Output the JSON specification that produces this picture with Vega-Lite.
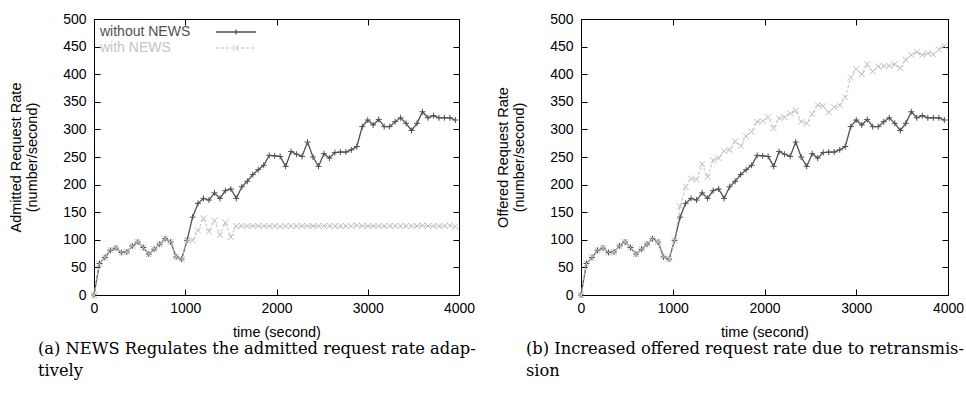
{
  "$schema": "https://vega.github.io/schema/vega-lite/v6.json",
  "background": "white",
  "padding": {"left": 8, "top": 11, "right": 5, "bottom": 0},
  "datasets": {
    "adm": [
      {"t":0,"s":"without NEWS","v":0},{"t":60,"s":"without NEWS","v":57},{"t":120,"s":"without NEWS","v":68},{"t":180,"s":"without NEWS","v":81},{"t":240,"s":"without NEWS","v":85},{"t":300,"s":"without NEWS","v":77},{"t":360,"s":"without NEWS","v":78},{"t":420,"s":"without NEWS","v":89},{"t":480,"s":"without NEWS","v":96},{"t":540,"s":"without NEWS","v":86},{"t":600,"s":"without NEWS","v":74},{"t":660,"s":"without NEWS","v":83},{"t":720,"s":"without NEWS","v":92},{"t":780,"s":"without NEWS","v":102},{"t":840,"s":"without NEWS","v":96},{"t":900,"s":"without NEWS","v":69},{"t":960,"s":"without NEWS","v":65},{"t":1020,"s":"without NEWS","v":99},
      {"t":1080,"s":"without NEWS","v":141},{"t":1140,"s":"without NEWS","v":166},{"t":1200,"s":"without NEWS","v":175},{"t":1260,"s":"without NEWS","v":172},{"t":1320,"s":"without NEWS","v":185},{"t":1380,"s":"without NEWS","v":175},{"t":1440,"s":"without NEWS","v":189},{"t":1500,"s":"without NEWS","v":192},{"t":1560,"s":"without NEWS","v":175},{"t":1620,"s":"without NEWS","v":196},{"t":1680,"s":"without NEWS","v":206},{"t":1740,"s":"without NEWS","v":218},{"t":1800,"s":"without NEWS","v":227},{"t":1860,"s":"without NEWS","v":235},{"t":1920,"s":"without NEWS","v":253},{"t":1980,"s":"without NEWS","v":252},{"t":2040,"s":"without NEWS","v":251},{"t":2100,"s":"without NEWS","v":233},{"t":2160,"s":"without NEWS","v":260},{"t":2220,"s":"without NEWS","v":255},{"t":2280,"s":"without NEWS","v":251},{"t":2340,"s":"without NEWS","v":277},{"t":2400,"s":"without NEWS","v":250},{"t":2460,"s":"without NEWS","v":233},{"t":2520,"s":"without NEWS","v":256},{"t":2580,"s":"without NEWS","v":248},{"t":2640,"s":"without NEWS","v":258},{"t":2700,"s":"without NEWS","v":259},{"t":2760,"s":"without NEWS","v":259},{"t":2820,"s":"without NEWS","v":263},{"t":2880,"s":"without NEWS","v":269},{"t":2940,"s":"without NEWS","v":305},{"t":3000,"s":"without NEWS","v":317},{"t":3060,"s":"without NEWS","v":308},{"t":3120,"s":"without NEWS","v":318},{"t":3180,"s":"without NEWS","v":305},{"t":3240,"s":"without NEWS","v":305},{"t":3300,"s":"without NEWS","v":314},{"t":3360,"s":"without NEWS","v":321},{"t":3420,"s":"without NEWS","v":311},{"t":3480,"s":"without NEWS","v":298},{"t":3540,"s":"without NEWS","v":311},{"t":3600,"s":"without NEWS","v":332},{"t":3660,"s":"without NEWS","v":321},{"t":3720,"s":"without NEWS","v":325},{"t":3780,"s":"without NEWS","v":321},{"t":3840,"s":"without NEWS","v":321},{"t":3900,"s":"without NEWS","v":321},{"t":3960,"s":"without NEWS","v":317},
      {"t":0,"s":"with NEWS","v":0},{"t":60,"s":"with NEWS","v":57},{"t":120,"s":"with NEWS","v":68},{"t":180,"s":"with NEWS","v":81},{"t":240,"s":"with NEWS","v":85},{"t":300,"s":"with NEWS","v":77},{"t":360,"s":"with NEWS","v":78},{"t":420,"s":"with NEWS","v":89},{"t":480,"s":"with NEWS","v":96},{"t":540,"s":"with NEWS","v":86},{"t":600,"s":"with NEWS","v":74},{"t":660,"s":"with NEWS","v":83},{"t":720,"s":"with NEWS","v":92},{"t":780,"s":"with NEWS","v":102},{"t":840,"s":"with NEWS","v":96},{"t":900,"s":"with NEWS","v":69},{"t":960,"s":"with NEWS","v":65},{"t":1020,"s":"with NEWS","v":99},
      {"t":1080,"s":"with NEWS","v":99},{"t":1140,"s":"with NEWS","v":117},{"t":1200,"s":"with NEWS","v":139},{"t":1260,"s":"with NEWS","v":115},{"t":1320,"s":"with NEWS","v":135},{"t":1380,"s":"with NEWS","v":109},{"t":1440,"s":"with NEWS","v":131},{"t":1500,"s":"with NEWS","v":105},{"t":1560,"s":"with NEWS","v":125},{"t":1620,"s":"with NEWS","v":125},{"t":1680,"s":"with NEWS","v":125},{"t":1740,"s":"with NEWS","v":125},{"t":1800,"s":"with NEWS","v":125},{"t":1860,"s":"with NEWS","v":125},{"t":1920,"s":"with NEWS","v":125},{"t":1980,"s":"with NEWS","v":125},{"t":2040,"s":"with NEWS","v":124},{"t":2100,"s":"with NEWS","v":125},{"t":2160,"s":"with NEWS","v":125},{"t":2220,"s":"with NEWS","v":125},{"t":2280,"s":"with NEWS","v":125},{"t":2340,"s":"with NEWS","v":125},{"t":2400,"s":"with NEWS","v":125},{"t":2460,"s":"with NEWS","v":125},{"t":2520,"s":"with NEWS","v":125},{"t":2580,"s":"with NEWS","v":125},{"t":2640,"s":"with NEWS","v":125},{"t":2700,"s":"with NEWS","v":125},{"t":2760,"s":"with NEWS","v":125},{"t":2820,"s":"with NEWS","v":125},{"t":2880,"s":"with NEWS","v":126},{"t":2940,"s":"with NEWS","v":125},{"t":3000,"s":"with NEWS","v":125},{"t":3060,"s":"with NEWS","v":125},{"t":3120,"s":"with NEWS","v":125},{"t":3180,"s":"with NEWS","v":125},{"t":3240,"s":"with NEWS","v":125},{"t":3300,"s":"with NEWS","v":125},{"t":3360,"s":"with NEWS","v":125},{"t":3420,"s":"with NEWS","v":125},{"t":3480,"s":"with NEWS","v":125},{"t":3540,"s":"with NEWS","v":125},{"t":3600,"s":"with NEWS","v":126},{"t":3660,"s":"with NEWS","v":125},{"t":3720,"s":"with NEWS","v":125},{"t":3780,"s":"with NEWS","v":125},{"t":3840,"s":"with NEWS","v":125},{"t":3900,"s":"with NEWS","v":126},{"t":3960,"s":"with NEWS","v":124}
    ],
    "off": [
      {"t":0,"s":"without NEWS","v":0},{"t":60,"s":"without NEWS","v":57},{"t":120,"s":"without NEWS","v":68},{"t":180,"s":"without NEWS","v":81},{"t":240,"s":"without NEWS","v":85},{"t":300,"s":"without NEWS","v":77},{"t":360,"s":"without NEWS","v":78},{"t":420,"s":"without NEWS","v":89},{"t":480,"s":"without NEWS","v":96},{"t":540,"s":"without NEWS","v":86},{"t":600,"s":"without NEWS","v":74},{"t":660,"s":"without NEWS","v":83},{"t":720,"s":"without NEWS","v":92},{"t":780,"s":"without NEWS","v":102},{"t":840,"s":"without NEWS","v":96},{"t":900,"s":"without NEWS","v":69},{"t":960,"s":"without NEWS","v":65},{"t":1020,"s":"without NEWS","v":99},
      {"t":1080,"s":"without NEWS","v":141},{"t":1140,"s":"without NEWS","v":166},{"t":1200,"s":"without NEWS","v":175},{"t":1260,"s":"without NEWS","v":172},{"t":1320,"s":"without NEWS","v":185},{"t":1380,"s":"without NEWS","v":175},{"t":1440,"s":"without NEWS","v":189},{"t":1500,"s":"without NEWS","v":192},{"t":1560,"s":"without NEWS","v":175},{"t":1620,"s":"without NEWS","v":196},{"t":1680,"s":"without NEWS","v":206},{"t":1740,"s":"without NEWS","v":218},{"t":1800,"s":"without NEWS","v":227},{"t":1860,"s":"without NEWS","v":235},{"t":1920,"s":"without NEWS","v":253},{"t":1980,"s":"without NEWS","v":252},{"t":2040,"s":"without NEWS","v":251},{"t":2100,"s":"without NEWS","v":233},{"t":2160,"s":"without NEWS","v":260},{"t":2220,"s":"without NEWS","v":255},{"t":2280,"s":"without NEWS","v":251},{"t":2340,"s":"without NEWS","v":277},{"t":2400,"s":"without NEWS","v":250},{"t":2460,"s":"without NEWS","v":233},{"t":2520,"s":"without NEWS","v":256},{"t":2580,"s":"without NEWS","v":248},{"t":2640,"s":"without NEWS","v":258},{"t":2700,"s":"without NEWS","v":259},{"t":2760,"s":"without NEWS","v":259},{"t":2820,"s":"without NEWS","v":263},{"t":2880,"s":"without NEWS","v":269},{"t":2940,"s":"without NEWS","v":305},{"t":3000,"s":"without NEWS","v":317},{"t":3060,"s":"without NEWS","v":308},{"t":3120,"s":"without NEWS","v":318},{"t":3180,"s":"without NEWS","v":305},{"t":3240,"s":"without NEWS","v":305},{"t":3300,"s":"without NEWS","v":314},{"t":3360,"s":"without NEWS","v":321},{"t":3420,"s":"without NEWS","v":311},{"t":3480,"s":"without NEWS","v":298},{"t":3540,"s":"without NEWS","v":311},{"t":3600,"s":"without NEWS","v":332},{"t":3660,"s":"without NEWS","v":321},{"t":3720,"s":"without NEWS","v":325},{"t":3780,"s":"without NEWS","v":321},{"t":3840,"s":"without NEWS","v":321},{"t":3900,"s":"without NEWS","v":321},{"t":3960,"s":"without NEWS","v":317},
      {"t":0,"s":"with NEWS","v":0},{"t":60,"s":"with NEWS","v":57},{"t":120,"s":"with NEWS","v":68},{"t":180,"s":"with NEWS","v":81},{"t":240,"s":"with NEWS","v":85},{"t":300,"s":"with NEWS","v":77},{"t":360,"s":"with NEWS","v":78},{"t":420,"s":"with NEWS","v":89},{"t":480,"s":"with NEWS","v":96},{"t":540,"s":"with NEWS","v":86},{"t":600,"s":"with NEWS","v":74},{"t":660,"s":"with NEWS","v":83},{"t":720,"s":"with NEWS","v":92},{"t":780,"s":"with NEWS","v":102},{"t":840,"s":"with NEWS","v":96},{"t":900,"s":"with NEWS","v":69},{"t":960,"s":"with NEWS","v":65},{"t":1020,"s":"with NEWS","v":99},
      {"t":1080,"s":"with NEWS","v":161},{"t":1140,"s":"with NEWS","v":196},{"t":1200,"s":"with NEWS","v":211},{"t":1260,"s":"with NEWS","v":209},{"t":1320,"s":"with NEWS","v":237},{"t":1380,"s":"with NEWS","v":214},{"t":1440,"s":"with NEWS","v":244},{"t":1500,"s":"with NEWS","v":248},{"t":1560,"s":"with NEWS","v":261},{"t":1620,"s":"with NEWS","v":263},{"t":1680,"s":"with NEWS","v":278},{"t":1740,"s":"with NEWS","v":270},{"t":1800,"s":"with NEWS","v":288},{"t":1860,"s":"with NEWS","v":296},{"t":1920,"s":"with NEWS","v":314},{"t":1980,"s":"with NEWS","v":315},{"t":2040,"s":"with NEWS","v":322},{"t":2100,"s":"with NEWS","v":302},{"t":2160,"s":"with NEWS","v":320},{"t":2220,"s":"with NEWS","v":322},{"t":2280,"s":"with NEWS","v":329},{"t":2340,"s":"with NEWS","v":334},{"t":2400,"s":"with NEWS","v":314},{"t":2460,"s":"with NEWS","v":311},{"t":2520,"s":"with NEWS","v":328},{"t":2580,"s":"with NEWS","v":344},{"t":2640,"s":"with NEWS","v":342},{"t":2700,"s":"with NEWS","v":331},{"t":2760,"s":"with NEWS","v":340},{"t":2820,"s":"with NEWS","v":344},{"t":2880,"s":"with NEWS","v":358},{"t":2940,"s":"with NEWS","v":394},{"t":3000,"s":"with NEWS","v":409},{"t":3060,"s":"with NEWS","v":400},{"t":3120,"s":"with NEWS","v":418},{"t":3180,"s":"with NEWS","v":405},{"t":3240,"s":"with NEWS","v":414},{"t":3300,"s":"with NEWS","v":415},{"t":3360,"s":"with NEWS","v":415},{"t":3420,"s":"with NEWS","v":418},{"t":3480,"s":"with NEWS","v":411},{"t":3540,"s":"with NEWS","v":426},{"t":3600,"s":"with NEWS","v":435},{"t":3660,"s":"with NEWS","v":440},{"t":3720,"s":"with NEWS","v":435},{"t":3780,"s":"with NEWS","v":438},{"t":3840,"s":"with NEWS","v":436},{"t":3900,"s":"with NEWS","v":445},{"t":3960,"s":"with NEWS","v":451}
    ]
  },
  "bounds": "flush",
  "spacing": 122,
  "hconcat": [
    {
      "width": 365,
      "height": 276,
      "title": {"text": "(a) NEWS Regulates the admitted request rate adap-", "subtitle": "tively", "orient": "bottom", "anchor": "start", "frame": "group", "dx": -56, "offset": 2, "font": "DejaVu Serif", "fontSize": 16.3, "fontWeight": "normal", "color": "#000", "subtitleFont": "DejaVu Serif", "subtitleFontSize": 16.3, "subtitleColor": "#000", "subtitlePadding": 6},
      "data": {"name": "adm"},
      "layer": [
        {
          "transform": [{"filter": "datum.s === 'without NEWS'"}],
          "mark": {"type": "line", "strokeWidth": 1.3},
          "encoding": {
            "x": {"field": "t", "type": "quantitative", "scale": {"domain": [0, 4000], "nice": false, "zero": false}, "axis": {"values": [0, 1000, 2000, 3000, 4000], "format": "d", "title": "time (second)", "labelPadding": 12, "titlePadding": 10}},
            "y": {"field": "v", "type": "quantitative", "scale": {"domain": [0, 500], "nice": false}, "axis": {"values": [0, 50, 100, 150, 200, 250, 300, 350, 400, 450, 500], "format": "d", "title": ["Admitted Request Rate", "(number/second)"], "labelPadding": 14, "titlePadding": 23, "titleLineHeight": 16}},
            "color": {"field": "s", "type": "nominal", "scale": {"domain": ["without NEWS", "with NEWS"], "range": ["#505050", "#bdbdbd"]},
              "legend": {"orient": "top-left", "offset": 6, "title": null, "labelFont": "Liberation Sans", "labelFontSize": 14, "rowPadding": 2,
                "encode": {
                  "symbols": {"update": {"shape": {"signal": "datum.value === 'with NEWS' ? 'M-4,0H4M-0.55,-0.55L0.55,0.55M-0.55,0.55L0.55,-0.55' : 'M-4,0H4M0,-0.5V0.5'"}, "strokeDash": {"signal": "datum.value === 'with NEWS' ? [3,2] : [1,0]"}, "fill": {"value": "transparent"}, "x": {"value": 136}, "strokeWidth": {"signal": "datum.value === 'with NEWS' ? 1 : 1.3"}, "opacity": {"value": 1}}},
                  "labels": {"update": {"x": {"value": 0}, "fill": {"signal": "datum.value === 'with NEWS' ? '#c4c4c4' : '#505050'"}}}
                }}}
          }
        },
        {
          "transform": [{"filter": "datum.s === 'without NEWS'"}],
          "mark": {"type": "point", "filled": false, "strokeWidth": 1, "size": 36, "opacity": 1, "color": "#505050", "shape": "M-1,0H1M0,-1V1"},
          "encoding": {
            "x": {"field": "t", "type": "quantitative", "axis": null},
            "y": {"field": "v", "type": "quantitative", "axis": null}
          }
        },
        {
          "transform": [{"filter": "datum.s === 'with NEWS'"}],
          "mark": {"type": "line", "strokeWidth": 1, "strokeDash": [3, 2]},
          "encoding": {
            "x": {"field": "t", "type": "quantitative", "axis": null},
            "y": {"field": "v", "type": "quantitative", "axis": null},
            "color": {"field": "s", "type": "nominal"}
          }
        },
        {
          "transform": [{"filter": "datum.s === 'with NEWS'"}],
          "mark": {"type": "point", "filled": false, "strokeWidth": 1, "size": 36, "opacity": 1, "color": "#bdbdbd", "shape": "M-1,-1L1,1M-1,1L1,-1"},
          "encoding": {
            "x": {"field": "t", "type": "quantitative", "axis": {"orient": "top", "labels": false, "title": null, "values": [0, 1000, 2000, 3000, 4000]}},
            "y": {"field": "v", "type": "quantitative", "axis": {"orient": "right", "labels": false, "title": null, "values": [0, 50, 100, 150, 200, 250, 300, 350, 400, 450, 500]}}
          }
        }
      ],
      "resolve": {"axis": {"x": "independent", "y": "independent"}}
    },
    {
      "width": 367,
      "height": 276,
      "title": {"text": "(b) Increased offered request rate due to retransmis-", "subtitle": "sion", "orient": "bottom", "anchor": "start", "frame": "group", "dx": -55, "offset": 2, "font": "DejaVu Serif", "fontSize": 16.3, "fontWeight": "normal", "color": "#000", "subtitleFont": "DejaVu Serif", "subtitleFontSize": 16.3, "subtitleColor": "#000", "subtitlePadding": 6},
      "data": {"name": "off"},
      "layer": [
        {
          "transform": [{"filter": "datum.s === 'without NEWS'"}],
          "mark": {"type": "line", "strokeWidth": 1.3},
          "encoding": {
            "x": {"field": "t", "type": "quantitative", "scale": {"domain": [0, 4000], "nice": false, "zero": false}, "axis": {"values": [0, 1000, 2000, 3000, 4000], "format": "d", "title": "time (second)", "labelPadding": 12, "titlePadding": 10}},
            "y": {"field": "v", "type": "quantitative", "scale": {"domain": [0, 500], "nice": false}, "axis": {"values": [0, 50, 100, 150, 200, 250, 300, 350, 400, 450, 500], "format": "d", "title": ["Offered Request Rate", "(number/second)"], "labelPadding": 14, "titlePadding": 23, "titleLineHeight": 16}},
            "color": {"field": "s", "type": "nominal", "scale": {"domain": ["without NEWS", "with NEWS"], "range": ["#505050", "#bdbdbd"]},
              "legend": {"orient": "top-left", "offset": 6, "title": null, "labelFont": "Liberation Sans", "labelFontSize": 14, "rowPadding": 2,
                "encode": {
                  "symbols": {"update": {"shape": {"signal": "datum.value === 'with NEWS' ? 'M-4,0H4M-0.55,-0.55L0.55,0.55M-0.55,0.55L0.55,-0.55' : 'M-4,0H4M0,-0.5V0.5'"}, "strokeDash": {"signal": "datum.value === 'with NEWS' ? [3,2] : [1,0]"}, "fill": {"value": "transparent"}, "x": {"value": 136}, "strokeWidth": {"signal": "datum.value === 'with NEWS' ? 1 : 1.3"}, "opacity": {"value": 1}}},
                  "labels": {"update": {"x": {"value": 0}, "fill": {"signal": "datum.value === 'with NEWS' ? '#c4c4c4' : '#505050'"}}}
                }}}
          }
        },
        {
          "transform": [{"filter": "datum.s === 'without NEWS'"}],
          "mark": {"type": "point", "filled": false, "strokeWidth": 1, "size": 36, "opacity": 1, "color": "#505050", "shape": "M-1,0H1M0,-1V1"},
          "encoding": {
            "x": {"field": "t", "type": "quantitative", "axis": null},
            "y": {"field": "v", "type": "quantitative", "axis": null}
          }
        },
        {
          "transform": [{"filter": "datum.s === 'with NEWS'"}],
          "mark": {"type": "line", "strokeWidth": 1, "strokeDash": [3, 2]},
          "encoding": {
            "x": {"field": "t", "type": "quantitative", "axis": null},
            "y": {"field": "v", "type": "quantitative", "axis": null},
            "color": {"field": "s", "type": "nominal"}
          }
        },
        {
          "transform": [{"filter": "datum.s === 'with NEWS'"}],
          "mark": {"type": "point", "filled": false, "strokeWidth": 1, "size": 36, "opacity": 1, "color": "#bdbdbd", "shape": "M-1,-1L1,1M-1,1L1,-1"},
          "encoding": {
            "x": {"field": "t", "type": "quantitative", "axis": {"orient": "top", "labels": false, "title": null, "values": [0, 1000, 2000, 3000, 4000]}},
            "y": {"field": "v", "type": "quantitative", "axis": {"orient": "right", "labels": false, "title": null, "values": [0, 50, 100, 150, 200, 250, 300, 350, 400, 450, 500]}}
          }
        }
      ],
      "resolve": {"axis": {"x": "independent", "y": "independent"}}
    }
  ],
  "config": {
    "view": {"stroke": "#000", "strokeWidth": 1},
    "axis": {"grid": false, "domainColor": "#000", "tickColor": "#000", "labelColor": "#000", "titleColor": "#000", "labelFont": "Liberation Sans", "titleFont": "Liberation Sans", "labelFontSize": 14, "titleFontSize": 14.5, "titleFontWeight": "normal", "tickSize": -6, "domainWidth": 1, "labelFlush": false, "labelOverlap": false}
  }
}
